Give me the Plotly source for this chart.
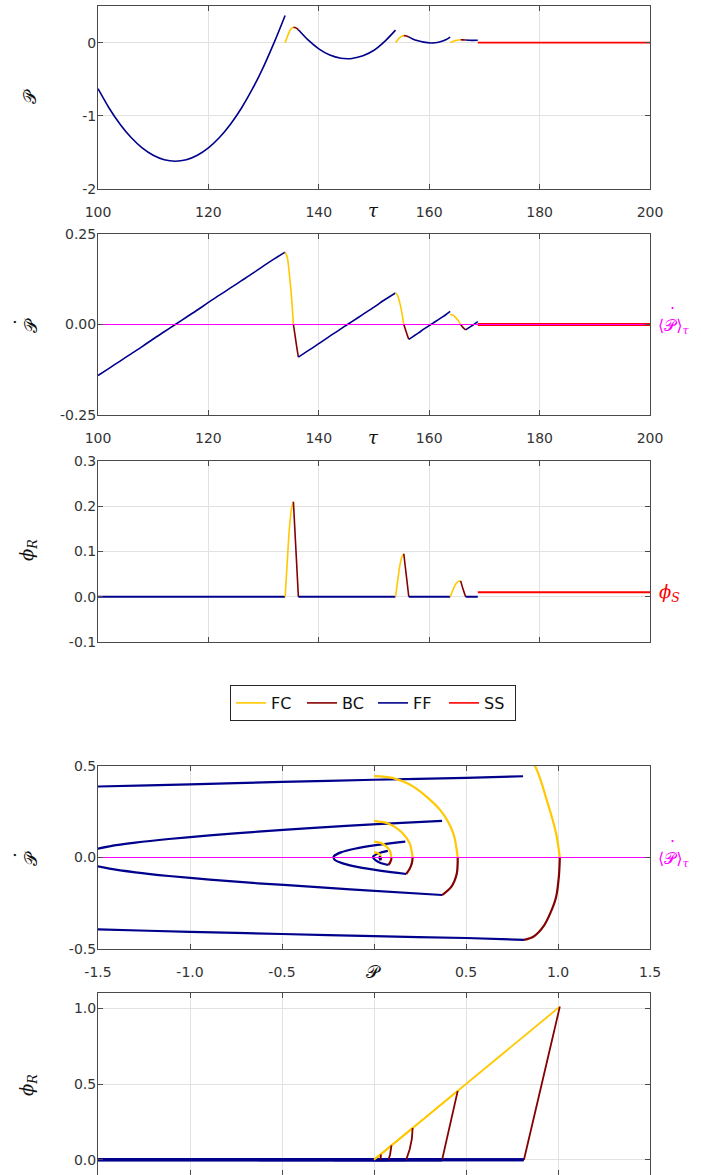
import plotly.graph_objects as go

W, H = 701, 1175

# ---------------- data ----------------
# Time-window segments (tau, P, Pdot, phi_R)
ff1_tau = [100, 102, 104, 106, 108, 110, 112, 114, 116, 118, 120, 122, 124, 126, 128, 130, 132, 133.9]
ff1_P   = [-0.63, -0.893, -1.115, -1.297, -1.438, -1.539, -1.600, -1.62, -1.600, -1.539, -1.438,
           -1.297, -1.115, -0.893, -0.630, -0.327, 0.016, 0.37]
ff1_Pd  = [-0.141, -0.121, -0.101, -0.081, -0.061, -0.040, -0.020, 0.0, 0.020, 0.040, 0.061,
           0.081, 0.101, 0.121, 0.141, 0.162, 0.182, 0.200]
ff1_phi = [0] * 18

fc1_tau = [133.9, 134.3, 134.65, 135.05, 135.4]
fc1_P   = [0.0, 0.08, 0.148, 0.194, 0.21]
fc1_Pd  = [0.200, 0.185, 0.141, 0.077, 0.0]
fc1_phi = [0.0, 0.08, 0.148, 0.194, 0.21]

bc1_tau = [135.4, 135.7, 136.0, 136.3]
bc1_P   = [0.21, 0.206, 0.194, 0.175]
bc1_Pd  = [0.0, -0.03, -0.062, -0.09]
bc1_phi = [0.21, 0.14, 0.07, 0.0]

ff2_tau = [136.3, 138, 140, 142, 144, 145.2, 146, 148, 150, 152, 153.9]
ff2_P   = [0.175, 0.04, -0.085, -0.17, -0.214, -0.22, -0.217, -0.18, -0.105, 0.02, 0.17]
ff2_Pd  = [-0.09, -0.073, -0.053, -0.032, -0.012, 0.0, 0.008, 0.028, 0.048, 0.069, 0.087]
ff2_phi = [0] * 11

fc2_tau = [153.9, 154.3, 154.65, 155.05, 155.4]
fc2_P   = [0.0, 0.036, 0.067, 0.088, 0.095]
fc2_Pd  = [0.087, 0.080, 0.061, 0.033, 0.0]
fc2_phi = [0.0, 0.036, 0.067, 0.088, 0.095]

bc2_tau = [155.4, 155.7, 156.0, 156.3]
bc2_P   = [0.095, 0.093, 0.087, 0.078]
bc2_Pd  = [0.0, -0.014, -0.028, -0.041]
bc2_phi = [0.095, 0.063, 0.032, 0.0]

ff3_tau = [156.3, 157, 158, 159, 160.3, 161, 162, 163, 163.8]
ff3_P   = [0.078, 0.05, 0.024, 0.006, -0.005, -0.003, 0.012, 0.038, 0.075]
ff3_Pd  = [-0.041, -0.034, -0.024, -0.013, 0.0, 0.007, 0.017, 0.027, 0.036]
ff3_phi = [0] * 9

fc3_tau = [163.8, 164.3, 164.8, 165.3, 165.7]
fc3_P   = [0.0, 0.015, 0.028, 0.036, 0.038]
fc3_Pd  = [0.028, 0.026, 0.019, 0.010, 0.0]
fc3_phi = [0.0, 0.015, 0.028, 0.034, 0.035]

bc3_tau = [165.7, 166.1, 166.6]
bc3_P   = [0.038, 0.037, 0.035]
bc3_Pd  = [0.0, -0.008, -0.015]
bc3_phi = [0.035, 0.018, 0.0]

ff4_tau = [166.6, 167.7, 168.8]
ff4_P   = [0.035, 0.030, 0.032]
ff4_Pd  = [-0.015, -0.004, 0.008]
ff4_phi = [0, 0, 0]

ss_tau = [168.8, 200]
ss_P   = [0.0, 0.0]
ss_Pd  = [0.0, 0.0]
ss_phi = [0.01, 0.01]

# Earlier cycles (visible only in the phase portraits)
fco_P   = [0.0, 0.26, 0.505, 0.714, 0.875, 0.94, 0.99, 1.01]
fco_Pd  = [1.0, 0.966, 0.866, 0.707, 0.5, 0.31, 0.13, 0.0]
fco_phi = [0.0, 0.26, 0.505, 0.714, 0.875, 0.94, 0.99, 1.01]

bco_P   = [1.01, 1.005, 0.99, 0.96, 0.92, 0.866, 0.815]
bco_Pd  = [0.0, -0.1, -0.214, -0.3, -0.378, -0.433, -0.45]
bco_phi = [1.01, 0.98, 0.906, 0.751, 0.544, 0.264, 0.0]

ffo_lo_P  = [0.815, 0.5, 0.0, -0.5, -1.0, -1.5, -1.6]
ffo_lo_Pd = [-0.45, -0.44, -0.43, -0.418, -0.406, -0.393, -0.39]
ffo_up_P  = [-1.6, -1.5, -1.0, -0.5, 0.0, 0.5, 0.81]
ffo_up_Pd = [0.385, 0.388, 0.40, 0.413, 0.425, 0.435, 0.444]

fcp_P   = [0.0, 0.1, 0.214, 0.359, 0.431, 0.455]
fcp_Pd  = [0.445, 0.435, 0.387, 0.26, 0.132, 0.0]
fcp_phi = [0.0, 0.1, 0.214, 0.359, 0.431, 0.455]

bcp_P   = [0.455, 0.45, 0.42, 0.37]
bcp_Pd  = [0.0, -0.087, -0.16, -0.205]
bcp_phi = [0.455, 0.428, 0.268, 0.0]

ffp_P   = [0.37, -0.13, -0.49, -0.63]
ffp_Pd  = [-0.205, -0.174, -0.15, -0.141]

avg_x_tau = [100, 200]
avg_x_P = [-1.5, 1.5]
avg_val = [0.0, 0.0]

# ---------------- styling ----------------
C_FC = '#FFC800'
C_BC = '#850000'
C_FF = '#00008C'
C_SS = '#FF0000'
C_AVG = '#FF00FF'
AX = '#4a4a4a'
GRID = '#e2e2e2'

fig = go.Figure()


def add(x, y, color, axis, width, shape='spline'):
    fig.add_trace(go.Scatter(x=x, y=y, mode='lines', xaxis='x' + axis, yaxis='y' + axis,
                             line=dict(color=color, width=width, shape=shape, smoothing=0.8),
                             showlegend=False, hoverinfo='skip'))


time_segs = [
    (ff1_tau, ff1_P, ff1_Pd, ff1_phi, C_FF),
    (fc1_tau, fc1_P, fc1_Pd, fc1_phi, C_FC),
    (bc1_tau, bc1_P, bc1_Pd, bc1_phi, C_BC),
    (ff2_tau, ff2_P, ff2_Pd, ff2_phi, C_FF),
    (fc2_tau, fc2_P, fc2_Pd, fc2_phi, C_FC),
    (bc2_tau, bc2_P, bc2_Pd, bc2_phi, C_BC),
    (ff3_tau, ff3_P, ff3_Pd, ff3_phi, C_FF),
    (fc3_tau, fc3_P, fc3_Pd, fc3_phi, C_FC),
    (bc3_tau, bc3_P, bc3_Pd, bc3_phi, C_BC),
    (ff4_tau, ff4_P, ff4_Pd, ff4_phi, C_FF),
]

for t, p, pd_, ph, c in time_segs:
    add(t, p, c, '', 1.6)
    add(t, pd_, c, '2', 1.6)
    add(t, ph, c, '3', 2.0 if c == C_FF else 1.6)

add(ss_tau, ss_P, C_SS, '', 1.8, 'linear')
add(ss_tau, ss_Pd, C_SS, '2', 3.0, 'linear')
add(ss_tau, ss_phi, C_SS, '3', 2.0, 'linear')
add(avg_x_tau, avg_val, C_AVG, '2', 1.0, 'linear')

# phase portraits
phase_segs = [
    (fco_P, fco_Pd, fco_phi, C_FC),
    (bco_P, bco_Pd, bco_phi, C_BC),
    (ffo_lo_P, ffo_lo_Pd, [0] * len(ffo_lo_P), C_FF),
    (ffo_up_P, ffo_up_Pd, [0] * len(ffo_up_P), C_FF),
    (fcp_P, fcp_Pd, fcp_phi, C_FC),
    (bcp_P, bcp_Pd, bcp_phi, C_BC),
    (ffp_P, ffp_Pd, [0] * len(ffp_P), C_FF),
]
for t, p, pd_, ph, c in time_segs:
    phase_segs.append((p, pd_, ph, c))

for p, pd_, ph, c in phase_segs:
    add(p, pd_, c, '4', 2.2)
for p, pd_, ph, c in phase_segs:
    add(p, ph, c, '5', 3.0 if c == C_FF else 1.8, 'linear')

add(avg_x_P, avg_val, C_AVG, '4', 1.0, 'linear')

# legend entries
for name, c in [('FC', C_FC), ('BC', C_BC), ('FF', C_FF), ('SS', C_SS)]:
    fig.add_trace(go.Scatter(x=[None], y=[None], mode='lines', name=name,
                             line=dict(color=c, width=1.6), xaxis='x', yaxis='y'))


def dom_y(top, bot):
    return [max(0.0, 1 - bot / H), min(1.0, 1 - top / H)]


xd = [98 / W, 650 / W]
common = dict(showline=True, linecolor=AX, linewidth=1, mirror='allticks', ticks='inside',
              ticklen=5, tickcolor=AX, showgrid=True, gridcolor=GRID, gridwidth=1,
              zeroline=False, automargin=False,
              tickfont=dict(family='DejaVu Sans', size=14, color='#333333'))
cx = dict(common, ticklabelstandoff=10)
cy = dict(common, ticklabelstandoff=-2)

tau_ticks = [100, 120, 140, 160, 180, 200]
tau_text = ['100', '120', '140', '160', '180', '200']
P_ticks = [-1.5, -1.0, -0.5, 0.0, 0.5, 1.0, 1.5]
P_text = ['-1.5', '-1.0', '-0.5', '', '0.5', '1.0', '1.5']

fig.update_layout(
    width=W, height=H, margin=dict(l=0, r=0, t=0, b=0, autoexpand=False),
    paper_bgcolor='white', plot_bgcolor='white',
    xaxis=dict(domain=xd, anchor='y', range=[100, 200], tickvals=tau_ticks, ticktext=tau_text, **cx),
    yaxis=dict(domain=dom_y(6, 189), anchor='x', range=[-2, 0.5], tickvals=[-2, -1, 0],
               ticktext=['-2', '-1', '0'], **cy),
    xaxis2=dict(domain=xd, anchor='y2', range=[100, 200], tickvals=tau_ticks, ticktext=tau_text, **cx),
    yaxis2=dict(domain=dom_y(234, 415), anchor='x2', range=[-0.25, 0.25], tickvals=[-0.25, 0, 0.25],
                ticktext=['-0.25', '0.00', '0.25'], **cy),
    xaxis3=dict(domain=xd, anchor='y3', range=[100, 200], tickvals=tau_ticks, showticklabels=False, **cx),
    yaxis3=dict(domain=dom_y(461, 642), anchor='x3', range=[-0.1, 0.3], tickvals=[-0.1, 0, 0.1, 0.2, 0.3],
                ticktext=['-0.1', '0.0', '0.1', '0.2', '0.3'], **cy),
    xaxis4=dict(domain=xd, anchor='y4', range=[-1.5, 1.5], tickvals=P_ticks, ticktext=P_text, **cx),
    yaxis4=dict(domain=dom_y(766, 949), anchor='x4', range=[-0.5, 0.5], tickvals=[-0.5, 0, 0.5],
                ticktext=['-0.5', '0.0', '0.5'], **cy),
    xaxis5=dict(domain=xd, anchor='y5', range=[-1.5, 1.5], tickvals=P_ticks, showticklabels=False, **cx),
    yaxis5=dict(domain=dom_y(993, 1177), anchor='x5', range=[-0.1, 1.1], tickvals=[0, 0.5, 1.0],
                ticktext=['0.0', '0.5', '1.0'], **cy),
    legend=dict(orientation='h', x=230 / W, y=1 - 685 / H, xanchor='left', yanchor='top',
                bordercolor='#262626', borderwidth=1, bgcolor='white',
                entrywidth=26, entrywidthmode='pixels',
                font=dict(family='DejaVu Sans', size=16, color='#111111')),
)

MF = 'DejaVu Serif'


def ann(text, x, y, size=18, color='#111111', angle=0, xanchor='center'):
    fig.add_annotation(text=text, x=x / W, y=1 - y / H, xref='paper', yref='paper',
                       showarrow=False, textangle=angle, xanchor=xanchor, yanchor='middle',
                       font=dict(family=MF, size=size, color=color))


ann('𝒫', 30, 97, angle=-90)
ann('𝒫', 30, 326, angle=-90)
ann('˙', 22, 322, angle=-90, size=20)
ann('<i>ϕ</i><sub><i>R</i></sub>', 28, 550, angle=-90)
ann('𝒫', 30, 859, angle=-90)
ann('˙', 22, 855, angle=-90, size=20)
ann('<i>ϕ</i><sub><i>R</i></sub>', 28, 1085, angle=-90)
ann('<i>τ</i>', 374, 211)
ann('<i>τ</i>', 374, 437)
ann('𝒫', 374, 971)
ann('⟨𝒫⟩<sub><i>τ</i></sub>', 656, 327, size=16, color=C_AVG, xanchor='left')
ann('˙', 672, 314, color=C_AVG, size=18)
ann('⟨𝒫⟩<sub><i>τ</i></sub>', 656, 860, size=16, color=C_AVG, xanchor='left')
ann('˙', 672, 847, color=C_AVG, size=18)
ann('<i>ϕ</i><sub><i>S</i></sub>', 657, 593, color=C_SS, xanchor='left')

fig.write_html('out.html', config={'displayModeBar': False},
               post_script="document.body.style.margin='0';")
